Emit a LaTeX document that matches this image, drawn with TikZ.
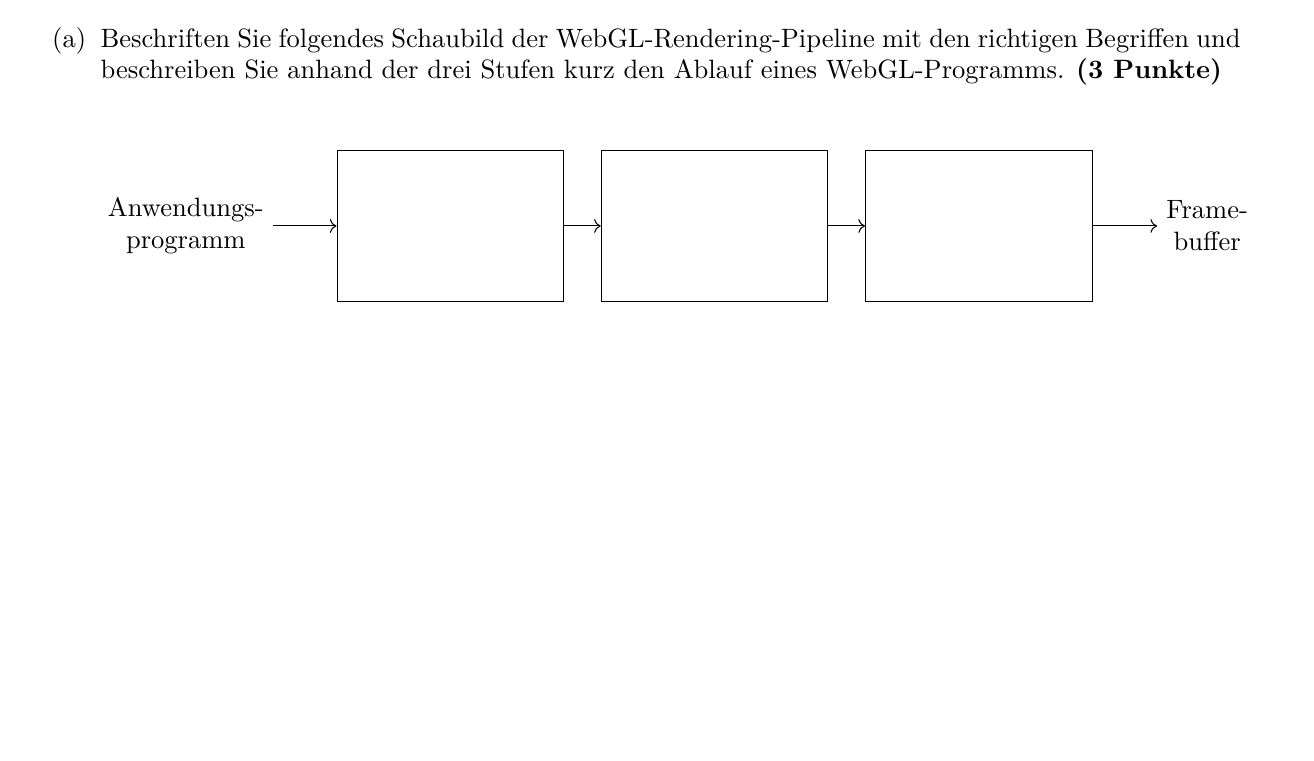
\documentclass[tikz,border=0pt]{standalone}
\usetikzlibrary{arrows.meta}

\begin{document}
\begin{tikzpicture}[x=1cm,y=1cm]
\tikzset{
  stage/.style={draw,minimum width=3cm,minimum height=2cm,inner sep=0pt},
  endlabel/.style={align=center,font=\normalsize},
  flow/.style={->}
}
\useasboundingbox (0,0) rectangle (17.404,-10.079);
\node[anchor=base east,inner sep=0pt] (lbl_a) at (1.148,-0.623) {(a)};
\node[anchor=base west,inner sep=0pt,text width=15.10cm,align=justify] (task) at (1.325,-0.623)
  {Beschriften Sie folgendes Schaubild der WebGL-Rendering-Pipeline mit den richtigen Begriffen und\linebreak
   beschreiben Sie anhand der drei Stufen kurz den Ablauf eines WebGL-Programms. \textbf{(3 Punkte)}};
\node[endlabel,anchor=east] (n_app) at (3.616,-2.993) {Anwendungs-\\programm};
\node[stage] (n_s1) at (5.964,-2.993) {};
\node[stage] (n_s2) at (9.464,-2.993) {};
\node[stage] (n_s3) at (12.964,-2.993) {};
\node[endlabel,anchor=west] (n_fb) at (15.325,-2.993) {Frame-\\buffer};
\draw[flow] (n_app) -- (n_s1);
\draw[flow] (n_s1) -- (n_s2);
\draw[flow] (n_s2) -- (n_s3);
\draw[flow] (n_s3) -- (n_fb);
\end{tikzpicture}
\end{document}
